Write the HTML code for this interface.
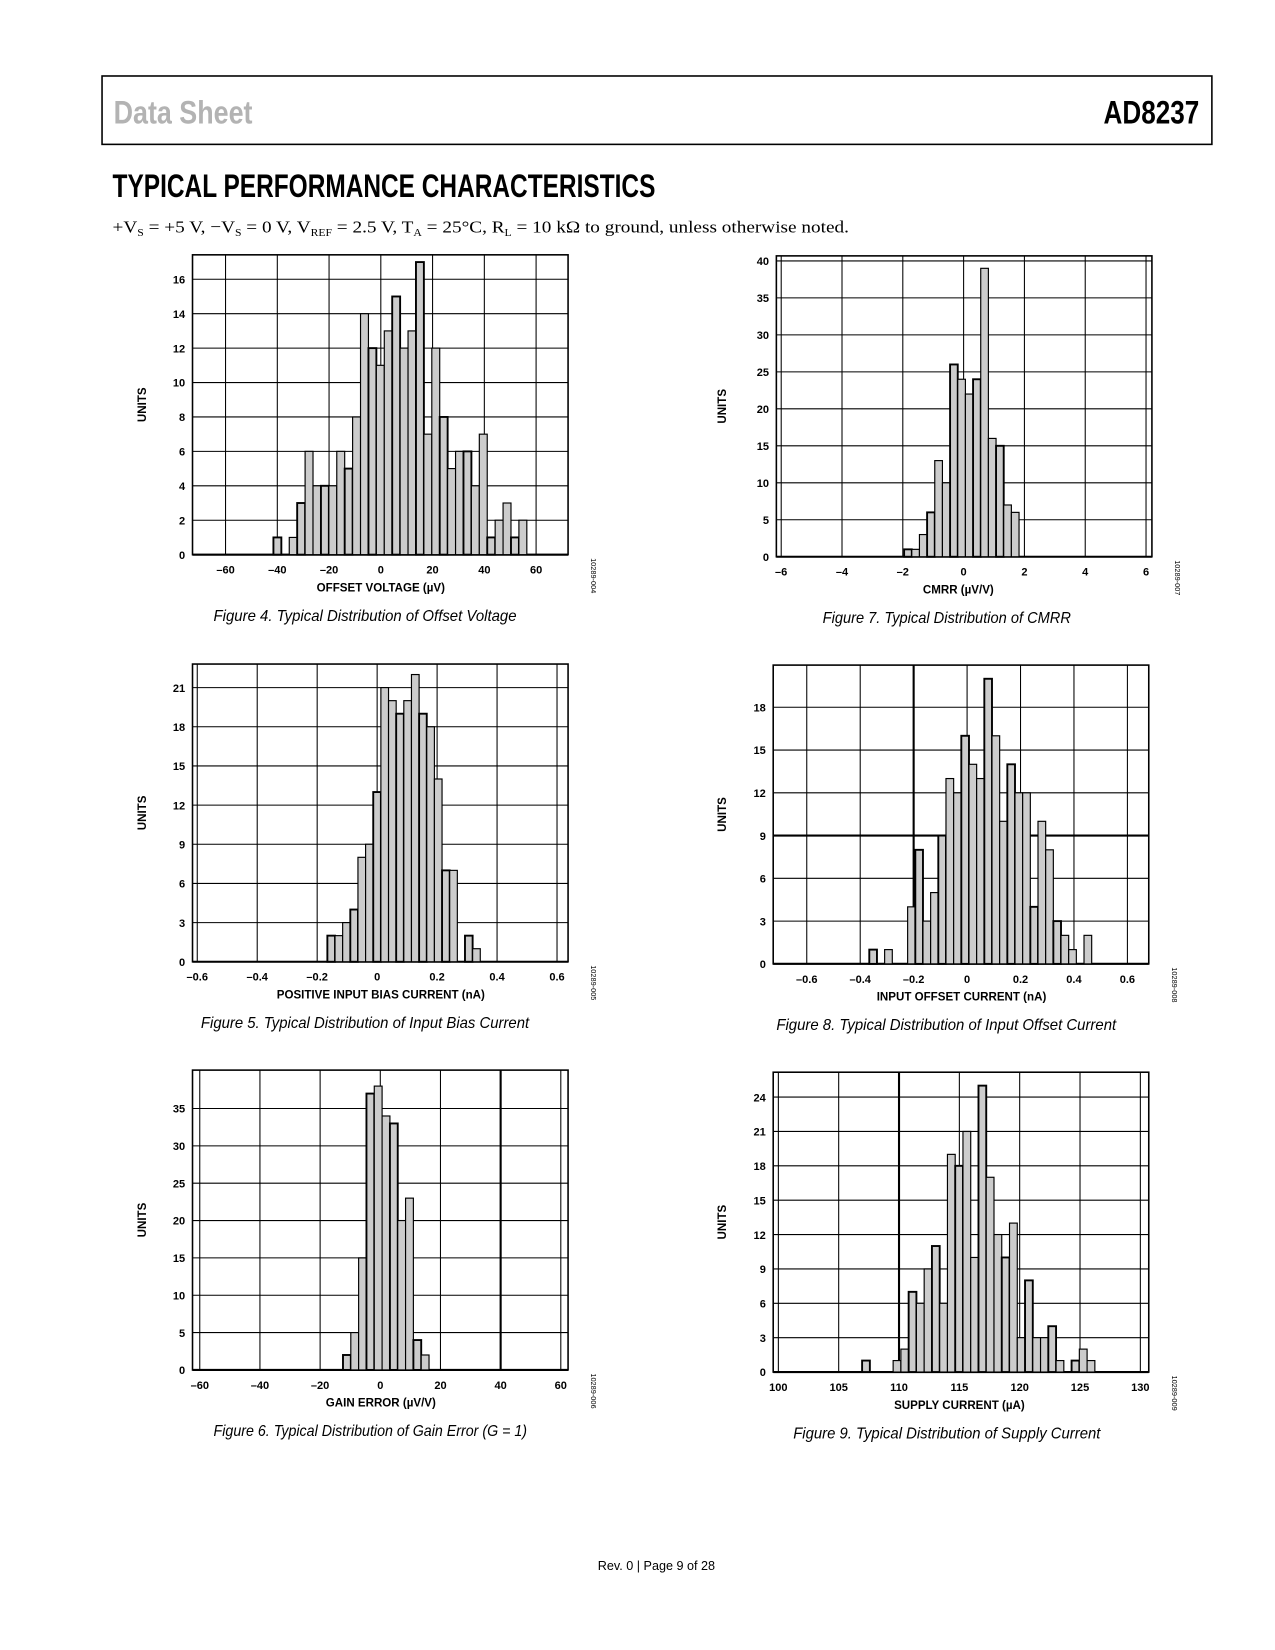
<!DOCTYPE html>
<html><head><meta charset="utf-8"><title>AD8237 Typical Performance Characteristics</title>
<style>
html,body{margin:0;padding:0;background:#fff;}
svg{display:block;}
.tk{font-family:"Liberation Sans",Arial,sans-serif;font-weight:bold;font-size:10.5px;fill:#000;}
.at{font-family:"Liberation Sans",Arial,sans-serif;font-weight:bold;font-size:11px;fill:#000;}
.cap{font-family:"Liberation Sans",Arial,sans-serif;font-style:italic;font-size:14.5px;fill:#000;}
.fid{font-family:"Liberation Sans",Arial,sans-serif;font-size:7px;fill:#000;}
</style></head>
<body>
<svg id="page" width="1275" height="1650" viewBox="0 0 1212 1568" xmlns="http://www.w3.org/2000/svg">
<rect x="0" y="0" width="1212" height="1568" fill="#fff"/>
<rect x="97" y="72" width="1055" height="65" fill="none" stroke="#000" stroke-width="1.5"/>
<text x="108" y="117" font-family="'Liberation Sans Narrow','Liberation Sans',sans-serif" font-weight="bold" font-size="31" fill="#b3b3b3" textLength="132" lengthAdjust="spacingAndGlyphs">Data Sheet</text>
<text x="1140" y="117" text-anchor="end" font-family="'Liberation Sans Narrow','Liberation Sans',sans-serif" font-weight="bold" font-size="31" fill="#000" textLength="91" lengthAdjust="spacingAndGlyphs">AD8237</text>
<text x="107" y="187" font-family="'Liberation Sans Narrow','Liberation Sans',sans-serif" font-weight="bold" font-size="31" fill="#000" textLength="516" lengthAdjust="spacingAndGlyphs">TYPICAL PERFORMANCE CHARACTERISTICS</text>
<text x="107" y="221" font-family="'Liberation Serif',serif" font-size="16.5" fill="#000" textLength="700" lengthAdjust="spacingAndGlyphs">+V<tspan font-size="10" dy="3">S</tspan><tspan dy="-3"> = +5 V, −V</tspan><tspan font-size="10" dy="3">S</tspan><tspan dy="-3"> = 0 V, V</tspan><tspan font-size="10" dy="3">REF</tspan><tspan dy="-3"> = 2.5 V, T</tspan><tspan font-size="10" dy="3">A</tspan><tspan dy="-3"> = 25°C, R</tspan><tspan font-size="10" dy="3">L</tspan><tspan dy="-3"> = 10 kΩ to ground, unless otherwise noted.</tspan></text>
<text x="624" y="1492" text-anchor="middle" font-family="'Liberation Sans',sans-serif" font-size="12" fill="#000">Rev. 0 | Page 9 of 28</text>
<g id="charts"></g>
</svg>
<script>
// ---- data arrays (bin start, bin width, counts) ----
const fig4Start = -41.5;
const fig4Width = 3.06;
const fig4Counts = [1,0,1,3,6,4,4,4,6,5,8,14,12,11,13,15,12,13,17,7,12,8,5,6,6,4,7,1,2,3,1,2];
const fig4XTicks = [-60,-40,-20,0,20,40,60];
const fig4YTicks = [0,2,4,6,8,10,12,14,16];

const fig7Start = -1.957;
const fig7Width = 0.252;
const fig7Counts = [1,1,3,6,13,10,26,24,22,24,39,16,15,7,6];
const fig7XTicks = [-6,-4,-2,0,2,4,6];
const fig7YTicks = [0,5,10,15,20,25,30,35,40];

const fig5Start = -0.166;
const fig5Width = 0.0255;
const fig5Counts = [2,2,3,4,8,9,13,21,20,19,20,22,19,18,14,7,7,0,2,1];
const fig5XTicks = [-0.6,-0.4,-0.2,0,0.2,0.4,0.6];
const fig5YTicks = [0,3,6,9,12,15,18,21];

const fig8Start = -0.366;
const fig8Width = 0.0287;
const fig8Counts = [1,0,1,0,0,4,8,3,5,9,13,12,16,14,13,20,16,10,14,12,12,4,10,8,3,2,1,0,2];
const fig8XTicks = [-0.6,-0.4,-0.2,0,0.2,0.4,0.6];
const fig8YTicks = [0,3,6,9,12,15,18];

const fig6Start = -12.4;
const fig6Width = 2.6;
const fig6Counts = [2,5,15,37,38,34,33,20,23,4,2];
const fig6XTicks = [-60,-40,-20,0,20,40,60];
const fig6YTicks = [0,5,10,15,20,25,30,35];

const fig9Start = 106.94;
const fig9Width = 0.643;
const fig9Counts = [1,0,0,0,1,2,7,6,9,11,6,19,18,21,10,25,17,12,10,13,3,8,3,3,4,1,0,1,2,1];
const fig9XTicks = [100,105,110,115,120,125,130];
const fig9YTicks = [0,3,6,9,12,15,18,21,24];

// ---- layout ----
const NS = "http://www.w3.org/2000/svg";
const root = document.getElementById('charts');
function el(tag, attrs, parent){
  const e = document.createElementNS(NS, tag);
  for (const k in attrs) e.setAttribute(k, attrs[k]);
  (parent||root).appendChild(e);
  return e;
}
function fmt(v){
  let s = (Math.abs(v) < 1 && v !== 0) ? v.toFixed(1) : String(v);
  return s.replace('-', '–');
}

function chart(cfg){
  const g = el('g', {});
  
  
  const [bx1, by1, bx2, by2] = cfg.box;
  const X = v => cfg.x0 + v * cfg.kx;
  const Y = v => cfg.y0 - v * cfg.ky;
  cfg.yTicks.forEach(t => {
    if (t === 0) return;
    const l = el('line', {x1:bx1, x2:bx2, y1:Y(t), y2:Y(t), stroke:'#000', 'stroke-width': (cfg.thickY===t?2:1)}, g);
    
    
  });
  cfg.xTicks.forEach(t => {
    const l = el('line', {x1:X(t), x2:X(t), y1:by1, y2:by2, stroke:'#000', 'stroke-width': (cfg.thickX===t?2:1)}, g);
    
    
  });
  const fr = el('rect', {x:bx1, y:by1, width:bx2-bx1, height:by2-by1, fill:'none', stroke:'#000', 'stroke-width':1.5}, g);
  
  
  const bl = el('line', {x1:bx1, x2:bx2, y1:Y(0), y2:Y(0), stroke:'#000', 'stroke-width':2}, g);
  
  
  cfg.counts.forEach((c, i) => {
    if (c <= 0) return;
    const xa = X(cfg.start + i * cfg.width), xb = X(cfg.start + (i + 1) * cfg.width);
    const r = el('rect', {x:xa, y:Y(c), width:xb-xa, height:Y(0)-Y(c), fill:'#cccccc', stroke:'#000', 'stroke-width': (i%3===0?1.8:1.1)}, g);
    
    
  });
  cfg.yTicks.forEach(t => {
    const tx = el('text', {x:bx1-7, y:Y(t)+4, 'text-anchor':'end', class:'tk'}, g);
    tx.textContent = String(t);
    
    
  });
  cfg.xTicks.forEach((t, i) => {
    const tx = el('text', {x:X(t), y:by2+18, 'text-anchor':'middle', class:'tk'}, g);
    tx.textContent = cfg.xLabels ? String(cfg.xLabels[i]) : fmt(t);
    
    
  });
  const xt = el('text', {x:cfg.titleX, y:by2+35, 'text-anchor':'middle', class:'at'}, g);
  xt.textContent = cfg.xTitle;
  
  
  const ymid = (by1 + by2) / 2;
  const yt = el('text', {x:0, y:0, 'text-anchor':'middle', class:'at', transform:`translate(${cfg.unitsX},${ymid}) rotate(-90)`}, g);
  yt.textContent = 'UNITS';
  
  
  const fi = el('text', {x:0, y:0, 'text-anchor':'middle', class:'fid', transform:`translate(${bx2+22},${by2+20}) rotate(90)`}, g);
  fi.textContent = cfg.fid;
  
  
  const cp = el('text', {x:cfg.capX - cfg.capW/2, y:by2+63, class:'cap', textLength:cfg.capW, lengthAdjust:'spacingAndGlyphs'}, g);
  cp.textContent = cfg.caption;
  
  
}

chart({name:'chart-offset-voltage', box:[183,242,540,527], x0:362, kx:2.46, y0:527, ky:16.36,
  start:fig4Start, width:fig4Width, counts:fig4Counts, xTicks:fig4XTicks, yTicks:fig4YTicks,
  xTitle:'OFFSET VOLTAGE (µV)', titleX:362, unitsX:139, fid:'10289-004', capX:347, capW:288,
  caption:'Figure 4. Typical Distribution of Offset Voltage'});
chart({name:'chart-cmrr', box:[738,243,1095,529], x0:916, kx:28.9, y0:529, ky:7.03,
  start:fig7Start, width:fig7Width, counts:fig7Counts, xTicks:fig7XTicks, yTicks:fig7YTicks,
  xTitle:'CMRR (µV/V)', titleX:911, unitsX:690, fid:'10289-007', capX:900, capW:236,
  caption:'Figure 7. Typical Distribution of CMRR'});
chart({name:'chart-input-bias-current', box:[183,631,540,914], x0:358.5, kx:285, y0:914, ky:12.41,
  start:fig5Start, width:fig5Width, counts:fig5Counts, xTicks:fig5XTicks, yTicks:fig5YTicks,
  xTitle:'POSITIVE INPUT BIAS CURRENT (nA)', titleX:362, unitsX:139, fid:'10289-005', capX:347, capW:312,
  caption:'Figure 5. Typical Distribution of Input Bias Current'});
chart({name:'chart-input-offset-current', box:[735,632,1092,916], x0:919.3, kx:254, y0:916, ky:13.55,
  start:fig8Start, width:fig8Width, counts:fig8Counts, xTicks:fig8XTicks, yTicks:fig8YTicks, thickY:9, thickX:-0.2,
  xTitle:'INPUT OFFSET CURRENT (nA)', titleX:914, unitsX:690, fid:'10289-008', capX:899.5, capW:323,
  caption:'Figure 8. Typical Distribution of Input Offset Current'});
chart({name:'chart-gain-error', box:[183,1017,540,1302], x0:361.5, kx:2.86, y0:1302, ky:7.1,
  start:fig6Start, width:fig6Width, counts:fig6Counts, xTicks:fig6XTicks, yTicks:fig6YTicks, thickX:40,
  xTitle:'GAIN ERROR (µV/V)', titleX:362, unitsX:139, fid:'10289-006', capX:352, capW:298,
  caption:'Figure 6. Typical Distribution of Gain Error (G = 1)'});
chart({name:'chart-supply-current', box:[735,1019,1092,1304], x0:739.9, kx:11.47, y0:1304, ky:10.89,
  start:fig9Start-100, width:fig9Width, counts:fig9Counts, xTicks:fig9XTicks.map(v=>v-100), xLabels:fig9XTicks, yTicks:fig9YTicks, thickX:10,
  xTitle:'SUPPLY CURRENT (µA)', titleX:912, unitsX:690, fid:'10289-009', capX:900, capW:292,
  caption:'Figure 9. Typical Distribution of Supply Current'});
</script>
</body></html>
